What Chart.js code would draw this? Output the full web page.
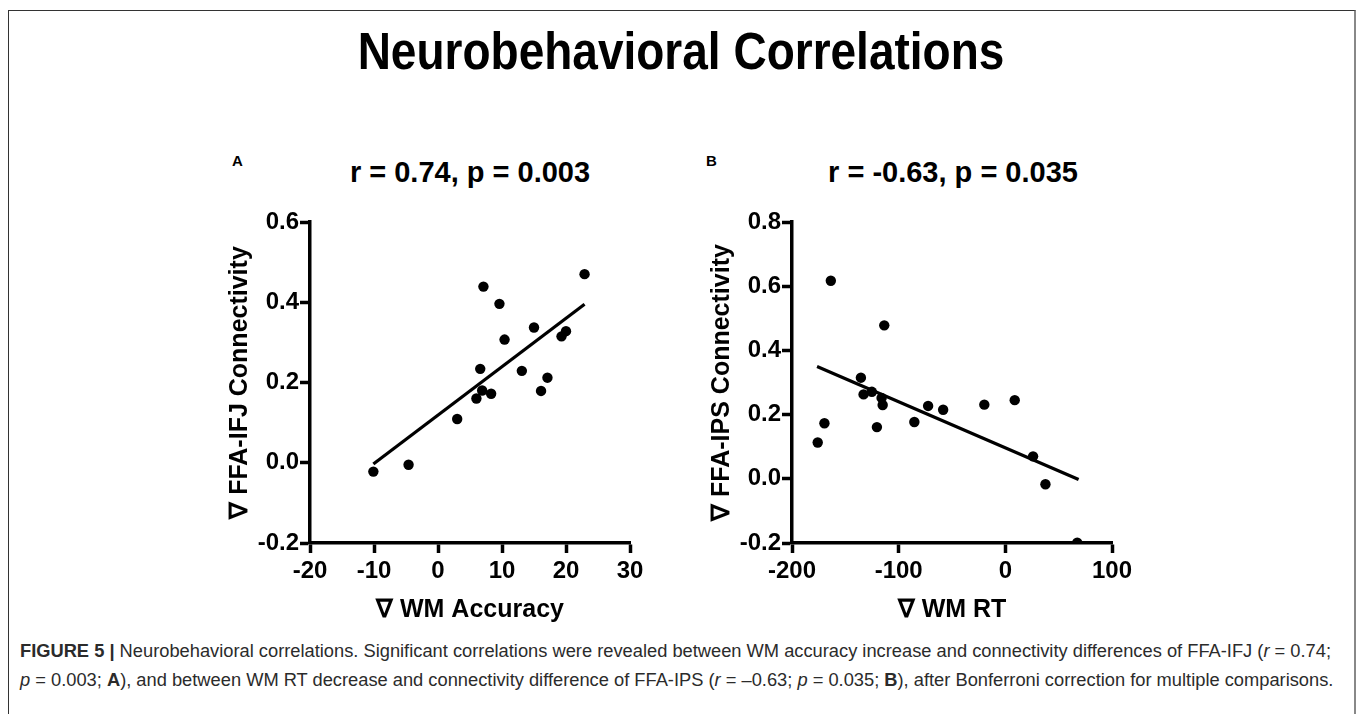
<!DOCTYPE html>
<html>
<head>
<meta charset="utf-8">
<script src="https://cdn.jsdelivr.net/npm/chart.js@4"></script>
<style>
  body { margin: 0; background: #fff; width: 1358px; height: 714px; overflow: hidden; position: relative; font-family: "Liberation Sans", Arial, sans-serif; }
  #frame { position: absolute; left: 8px; top: 10px; width: 1345px; height: 720px; border-left: 1px solid #333; border-top: 1px solid #333; border-right: 2px solid #888; }
  .txt { position: absolute; font-weight: bold; color: #000; white-space: nowrap; }
  #mainTitle { left: 0; width: 1362px; text-align: center; top: 22px; font-size: 46px; line-height: 58px; transform: scaleY(1.12); }
  .panelTitle { font-size: 29px; line-height: 34px; transform: translateX(-50%); }
  .letter { font-size: 15px; line-height: 18px; }
  canvas { position: absolute; }
  .cap { position: absolute; left: 20px; font-size: 18.3px; color: #2b2b2b; white-space: nowrap; line-height: 22px; }
</style>
</head>
<body>
<div id="frame"></div>
<div id="mainTitle" class="txt">Neurobehavioral Correlations</div>
<div class="txt letter" style="left:232px; top:152px;">A</div>
<div class="txt panelTitle" style="left:470px; top:155px;">r = 0.74, p = 0.003</div>
<div class="txt letter" style="left:706px; top:152px;">B</div>
<div class="txt panelTitle" style="left:953px; top:155px;">r = -0.63, p = 0.035</div>

<canvas id="chartA" width="460" height="520" style="left:200px; top:110px; width:460px; height:520px;"></canvas>
<canvas id="chartB" width="460" height="520" style="left:680px; top:110px; width:460px; height:520px;"></canvas>

<div class="cap" style="top:640px;"><b>FIGURE 5 |</b> Neurobehavioral correlations. Significant correlations were revealed between WM accuracy increase and connectivity differences of FFA-IFJ (<i>r</i> = 0.74;</div>
<div class="cap" style="top:669px;"><i>p</i> = 0.003; <b>A</b>), and between WM RT decrease and connectivity difference of FFA-IPS (<i>r</i> = –0.63; <i>p</i> = 0.035; <b>B</b>), after Bonferroni correction for multiple comparisons.</div>

<script>
// panel A: WM accuracy change vs FFA-IFJ connectivity change
const accA = [-10.1, -4.6, 3.0, 6.0, 6.6, 6.9, 7.1, 8.3, 9.6, 10.4, 13.1, 15.0, 16.1, 17.1, 19.3, 20.0, 22.9];
const connA = [-0.022, -0.005, 0.109, 0.160, 0.234, 0.180, 0.439, 0.172, 0.396, 0.307, 0.229, 0.337, 0.179, 0.212, 0.315, 0.328, 0.470];
const fitAx = [-10.1, 22.9];
const fitAy = [-0.003, 0.395];

// panel B: WM RT change vs FFA-IPS connectivity change
const rtB = [-163.6, -175.9, -169.6, -135.4, -132.9, -125.1, -116.0, -115.0, -113.5, -120.4, -85.3, -72.4, -58.3, -19.7, 8.8, 26.0, 37.6, 67.4];
const connB = [0.617, 0.113, 0.173, 0.315, 0.263, 0.271, 0.252, 0.230, 0.478, 0.161, 0.177, 0.227, 0.215, 0.231, 0.245, 0.070, -0.017, -0.199];
const fitBx = [-176.5, 68.7];
const fitBy = [0.350, -0.002];

const FONT = "'Liberation Sans', Arial, sans-serif";

function pts(xs, ys) {
  return xs.map((x, i) => ({ x: x, y: ys[i] }));
}

function makeChart(id, xs, ys, fx, fy, xr, yr, xTitle, yTitle, yTitlePad, leftW, rightPad) {
  return new Chart(document.getElementById(id), {
    type: "scatter",
    data: {
      datasets: [
        {
          data: pts(xs, ys),
          backgroundColor: "#000",
          borderWidth: 0,
          pointRadius: 5.2,
        },
        {
          type: "line",
          data: pts(fx, fy),
          borderColor: "#000",
          borderWidth: 3.2,
          pointRadius: 0,
          fill: false,
        },
      ],
    },
    options: {
      responsive: false,
      animation: false,
      layout: { padding: { top: 112, right: rightPad, left: 0, bottom: 0 } },
      plugins: { legend: { display: false }, tooltip: { enabled: false } },
      scales: {
        x: {
          type: "linear",
          min: xr[0], max: xr[1],
          afterFit: (s) => { s.height = 87; },
          border: { display: true, color: "#000", width: 3.5 },
          grid: { drawOnChartArea: false, drawTicks: true, tickLength: 10, tickWidth: 3.5, tickColor: "#000" },
          ticks: { stepSize: xr[2], color: "#000", padding: 4, font: { family: FONT, size: 24, weight: "bold" } },
          title: { display: true, text: xTitle, color: "#000", padding: { top: 0, bottom: 5 }, font: { family: FONT, size: 25, weight: "bold" } },
        },
        y: {
          type: "linear",
          min: yr[0], max: yr[1],
          afterFit: (s) => { s.width = leftW; },
          border: { display: true, color: "#000", width: 3.5 },
          grid: { drawOnChartArea: false, drawTicks: true, tickLength: 10, tickWidth: 3.5, tickColor: "#000" },
          ticks: {
            stepSize: yr[2], color: "#000", padding: 1,
            font: { family: FONT, size: 24, weight: "bold" },
            callback: (v) => v.toFixed(1),
          },
          title: { display: true, text: yTitle, color: "#000", padding: { top: yTitlePad, bottom: 0 }, font: { family: FONT, size: 25, weight: "bold" } },
        },
      },
    },
  });
}

makeChart("chartA", accA, connA, fitAx, fitAy, [-20, 30, 10], [-0.2, 0.6, 0.2],
  "\u2207 WM Accuracy", "\u2207 FFA-IFJ Connectivity", 25, 110, 30);
makeChart("chartB", rtB, connB, fitBx, fitBy, [-200, 100, 100], [-0.2, 0.8, 0.2],
  "\u2207 WM RT", "\u2207 FFA-IPS Connectivity", 27, 112, 28);
</script>
</body>
</html>
